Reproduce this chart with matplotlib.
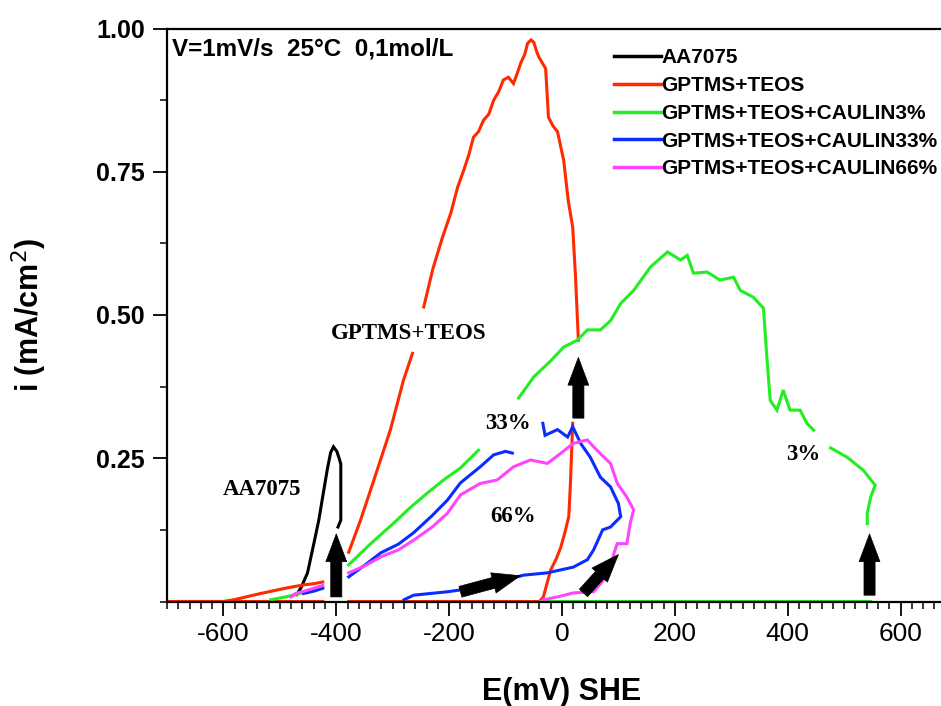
import numpy as np
import matplotlib
matplotlib.use("Agg")
import matplotlib.pyplot as plt
from matplotlib.patches import FancyArrowPatch
from matplotlib.ticker import MultipleLocator

plt.rcParams['axes.unicode_minus'] = False
nan = np.nan

# ---------------- data (E in mV vs SHE, i in mA/cm2) ----------------
aa_E = [-470, -462, -451, -440, -431, -422, -416, -410, -405, -399, -395, -392, -392, -392, -397]
aa_i = [0.012, 0.025, 0.05, 0.10, 0.142, 0.195, 0.23, 0.26, 0.27, 0.262, 0.25, 0.24, 0.19, 0.142, 0.13]

gt_E = [-700, -600, -582, -560, -534, -510, -486, -458, -440, -424, nan,
        -378, -357, -334, -304, -281, -265, nan, -245, -229, -212, -197, -185,
        -174, -165, -157, -148, -139, -130, -121, -112, -104, -95, -86, -80,
        -73, -66, -61, -55, -50, -45, -41, -35, -29, -26, -24, -16, -8, 3,
        11, 19, 24, 27, 29, nan, 19, 17, 15, 12, 5, -2, -10, -20, -27, -33,
        -40, -100, -200, -300, -378, nan, -424, -500, -600, -700]
gt_i = [0, 0, 0.003, 0.008, 0.014, 0.019, 0.024, 0.029, 0.031, 0.034, nan,
        0.086, 0.142, 0.21, 0.30, 0.386, 0.433, nan, 0.514, 0.58, 0.635, 0.678, 0.723,
        0.753, 0.78, 0.81, 0.82, 0.84, 0.85, 0.875, 0.89, 0.91, 0.915, 0.904, 0.92,
        0.94, 0.955, 0.974, 0.98, 0.976, 0.96, 0.95, 0.94, 0.93, 0.88, 0.845, 0.83, 0.82, 0.77,
        0.70, 0.653, 0.566, 0.50, 0.456, nan, 0.311, 0.26, 0.207, 0.148, 0.12, 0.095, 0.075, 0.055, 0.03, 0.008,
        0.0, 0.0, 0.0, 0.0, 0.0, nan, 0.0, 0.0, 0.0, 0.0]

c3_E = [-516, -490, -460, -440, -424, nan, -378, -340, -298, -270, -239, -210, -180, -148, nan,
        -77, -50, -20, 3, 27, 45, 68, 86, 104, 127, 157, 187, 210, 222, 233, 257, 280,
        304, 316, 339, 357, 363, 369, 381, 392, 404, 422, 434, 446, nan,
        476, 505, 534, 555, 547, 541, 541, nan, 547, 300, 100, -38]
c3_i = [0.003, 0.008, 0.015, 0.02, 0.025, nan, 0.064, 0.10, 0.137, 0.163, 0.189, 0.212, 0.233, 0.264, nan,
        0.355, 0.392, 0.42, 0.444, 0.456, 0.474, 0.474, 0.49, 0.52, 0.543, 0.584, 0.61, 0.596, 0.604, 0.573, 0.575, 0.561,
        0.566, 0.543, 0.531, 0.512, 0.427, 0.351, 0.334, 0.369, 0.334, 0.334, 0.311, 0.299, nan,
        0.268, 0.252, 0.229, 0.203, 0.182, 0.154, 0.136, nan, 0.0, 0.0, 0.0, 0.0]

c33_E = [-458, -440, -424, nan, -378, -350, -321, -290, -263, -230, -203, -180, -145, -121, -100, -88, nan,
         -34, -30, -8, 10, 19, 33, 50, 68, 86, 100, 104, 86, 72, 56, 45, 20, -26, -68,
         -145, -203, -263, -280]
c33_i = [0.014, 0.018, 0.023, nan, 0.043, 0.063, 0.085, 0.10, 0.12, 0.15, 0.177, 0.207, 0.235, 0.256, 0.262, 0.259, nan,
         0.311, 0.29, 0.30, 0.287, 0.305, 0.276, 0.252, 0.217, 0.20, 0.171, 0.148, 0.13, 0.125, 0.09, 0.073, 0.06, 0.05, 0.046,
         0.025, 0.017, 0.011, 0.003]

c66_E = [-480, -472, -450, -424, nan, -378, -350, -321, -290, -263, -230, -203, -180, -145, -115, -86, -56, -26, -3,
         20, 45, 56, 68, 86, 98, 115, 127, 121, 115, 98, 92, 86, 80, 74, 56, 20, -8, -33]
c66_i = [0.008, 0.014, 0.02, 0.028, nan, 0.05, 0.062, 0.078, 0.09, 0.107, 0.13, 0.154, 0.186, 0.206, 0.212, 0.235, 0.247, 0.241, 0.258,
         0.276, 0.282, 0.27, 0.258, 0.241, 0.206, 0.182, 0.16, 0.137, 0.101, 0.101, 0.084, 0.055, 0.043, 0.038, 0.017, 0.015, 0.008, 0.003]

series_labels = ["AA7075", "GPTMS+TEOS", "GPTMS+TEOS+CAULIN3%",
                 "GPTMS+TEOS+CAULIN33%", "GPTMS+TEOS+CAULIN66%"]
series_colors = ["#000000", "#ff2a00", "#22ee22", "#0a2dff", "#ff44ff"]

# arrows: (tail E, tail i) -> (tip E, tip i)
arrows = [((-400, 0.008), (-400, 0.118)),
          ((29, 0.32), (29, 0.426)),
          ((545, 0.011), (545, 0.118)),
          ((-180, 0.017), (-74, 0.045)),
          ((38, 0.015), (100, 0.082))]

annotations = [("GPTMS+TEOS", -272, 0.468), ("AA7075", -531, 0.195),
               ("33%", -95, 0.311), ("66%", -86, 0.149), ("3%", 428, 0.256)]

x_ticks = [-600, -400, -200, 0, 200, 400, 600]
y_ticks = [0.25, 0.50, 0.75, 1.00]

# ---------------- figure ----------------
fig = plt.figure(figsize=(9.41, 7.06), dpi=100)
ax = fig.add_axes([167 / 941, 104.5 / 706, 790 / 941, 573 / 706])

lw = 2.2
for E, I, lab, col in zip([aa_E, gt_E, c3_E, c33_E, c66_E],
                          [aa_i, gt_i, c3_i, c33_i, c66_i],
                          series_labels, series_colors):
    ax.plot(E, I, color=col, lw=lw, label=lab, solid_joinstyle='miter')

for (t, h) in arrows:
    ax.add_patch(FancyArrowPatch(t, h,
                                 arrowstyle='simple,head_width=1.5,head_length=2.0,tail_width=0.8',
                                 mutation_scale=10, fc='black', ec='black', lw=0.5,
                                 shrinkA=0, shrinkB=0, zorder=5))

for txt, x, y in annotations:
    ax.text(x, y, txt, ha='center', va='center', fontsize=16.5, fontweight='bold',
            family='Liberation Serif', zorder=6)

ax.text(0.006, 0.965, "V=1mV/s  25°C  0,1mol/L", transform=ax.transAxes,
        ha='left', va='center', fontsize=17.5, fontweight='bold', family='Liberation Sans')

ax.set_xlim(-700, 700)
ax.set_ylim(0, 1.0)
ax.set_xticks(x_ticks)
ax.set_yticks(y_ticks)
ax.set_yticklabels([f"{v:.2f}" for v in y_ticks])
ax.xaxis.set_minor_locator(MultipleLocator(20))
ax.yaxis.set_minor_locator(MultipleLocator(0.125))
ax.tick_params(axis='both', which='major', direction='out', length=10, width=1.3)
ax.tick_params(axis='both', which='minor', direction='out', length=5, width=1.1)
ax.tick_params(axis='y', which='major', pad=6)
ax.tick_params(axis='x', which='major', pad=5)
for lab in ax.get_yticklabels():
    lab.set_fontweight('bold'); lab.set_fontsize(18); lab.set_family('Liberation Sans')
for lab in ax.get_xticklabels():
    lab.set_fontsize(19); lab.set_family('Liberation Sans')
for s in ax.spines.values():
    s.set_linewidth(1.6)

ax.set_xlabel("E(mV) SHE", fontsize=22, fontweight='bold', family='Liberation Sans', labelpad=22)
ax.set_ylabel("i (mA/cm$^2$)", fontsize=22, fontweight='bold', family='Liberation Sans', labelpad=34)

leg = ax.legend(loc='upper left', bbox_to_anchor=(604 / 941, 1 - 38 / 706),
                bbox_transform=fig.transFigure, frameon=False, borderpad=0,
                handlelength=2.25, handletextpad=0.0, labelspacing=0.42,
                prop={'family': 'Liberation Sans', 'weight': 'bold', 'size': 15})
for l in leg.get_lines():
    l.set_linewidth(2.5)

fig.savefig("out.png", dpi=100)
